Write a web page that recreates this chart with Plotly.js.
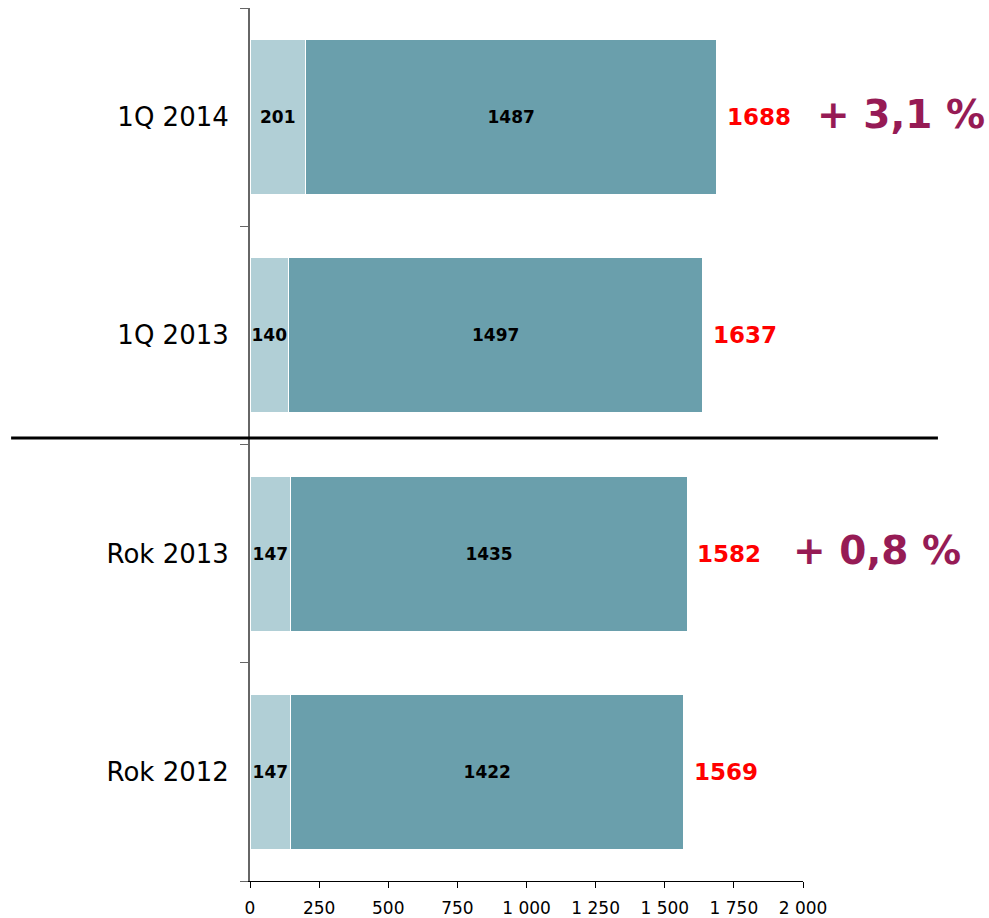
<!DOCTYPE html>
<html>
<head>
<meta charset="utf-8">
<script src="https://cdn.plot.ly/plotly-3.0.1.min.js"></script>
<style>
html,body{margin:0;padding:0;background:#fff;}
#chart{width:989px;height:918px;}
</style>
</head>
<body>
<div id="chart"></div>
<script>
// Data
const categories = ["Rok 2012", "Rok 2013", "1Q 2013", "1Q 2014"];
const lightValues = [147, 147, 140, 201];
const darkValues = [1422, 1435, 1497, 1487];
const totals = [1569, 1582, 1637, 1688];
const changeLabels = ["+ 0,8 %", "+ 3,1 %"];
const changeCategories = ["Rok 2013", "1Q 2014"];
const xTickVals = [0, 250, 500, 750, 1000, 1250, 1500, 1750, 2000];

const font = "DejaVu Sans, Verdana, sans-serif";

const traceLight = {
  type: "bar", orientation: "h",
  y: categories, x: lightValues,
  text: lightValues.map(String), textposition: "inside", insidetextanchor: "middle",
  textangle: 0, constraintext: "none",
  textfont: {family: font, size: 17, color: "#000", weight: "bold"},
  marker: {color: "#B1CFD6", line: {color: "#ffffff", width: 1}},
  hoverinfo: "skip"
};
const traceDark = {
  type: "bar", orientation: "h",
  y: categories, x: darkValues,
  text: darkValues.map(String), textposition: "inside", insidetextanchor: "middle",
  textangle: 0, constraintext: "none",
  textfont: {family: font, size: 17, color: "#000", weight: "bold"},
  marker: {color: "#6A9FAC", line: {color: "#ffffff", width: 1}},
  hoverinfo: "skip"
};

const annotations = [];
for (let i = 0; i < categories.length; i++) {
  annotations.push({
    x: totals[i], y: categories[i], xref: "x", yref: "y",
    text: "<b>" + totals[i] + "</b>", showarrow: false,
    xanchor: "left", yanchor: "middle", xshift: 8,
    font: {family: font, size: 23, color: "#FF0000"}
  });
}
const changeX = [0.978, 1.022];
for (let i = 0; i < changeLabels.length; i++) {
  annotations.push({
    x: changeX[i], xref: "paper", y: changeCategories[i], yref: "y",
    text: "<b>" + changeLabels[i] + "</b>", showarrow: false,
    xanchor: "left", yanchor: "middle", yshift: 3,
    font: {family: font, size: 39, color: "#961B55"}
  });
}

const layout = {
  width: 989, height: 918,
  margin: {l: 250, r: 186, t: 8, b: 37, pad: 0},
  paper_bgcolor: "#ffffff", plot_bgcolor: "#ffffff",
  barmode: "stack", bargap: 0.29,
  showlegend: false,
  separators: ", ",
  font: {family: font, color: "#000"},
  xaxis: {
    range: [0, 2000], tickvals: xTickVals, tickformat: ",",
    showgrid: false, zeroline: false,
    showline: true, linecolor: "#000", linewidth: 1,
    ticks: "outside", ticklen: 6, tickcolor: "#000", tickwidth: 1,
    ticklabelstandoff: 6,
    tickfont: {family: font, size: 17, color: "#000"},
    fixedrange: true
  },
  yaxis: {
    type: "category", categoryorder: "array", categoryarray: categories,
    range: [-0.5, 3.5],
    showgrid: false, zeroline: false,
    showline: true, linecolor: "#666", linewidth: 2,
    ticks: "outside", tickson: "boundaries", ticklen: 8, tickcolor: "#666", tickwidth: 1,
    ticklabelstandoff: 14,
    tickfont: {family: font, size: 26, color: "#000"},
    fixedrange: true
  },
  shapes: [{
    type: "line", xref: "paper", yref: "paper",
    x0: -0.432, x1: 1.244, y0: 0.5074, y1: 0.5074,
    line: {color: "#000", width: 3}
  }],
  annotations: annotations
};

Plotly.newPlot("chart", [traceLight, traceDark], layout, {displayModeBar: false, staticPlot: true});
</script>
</body>
</html>
